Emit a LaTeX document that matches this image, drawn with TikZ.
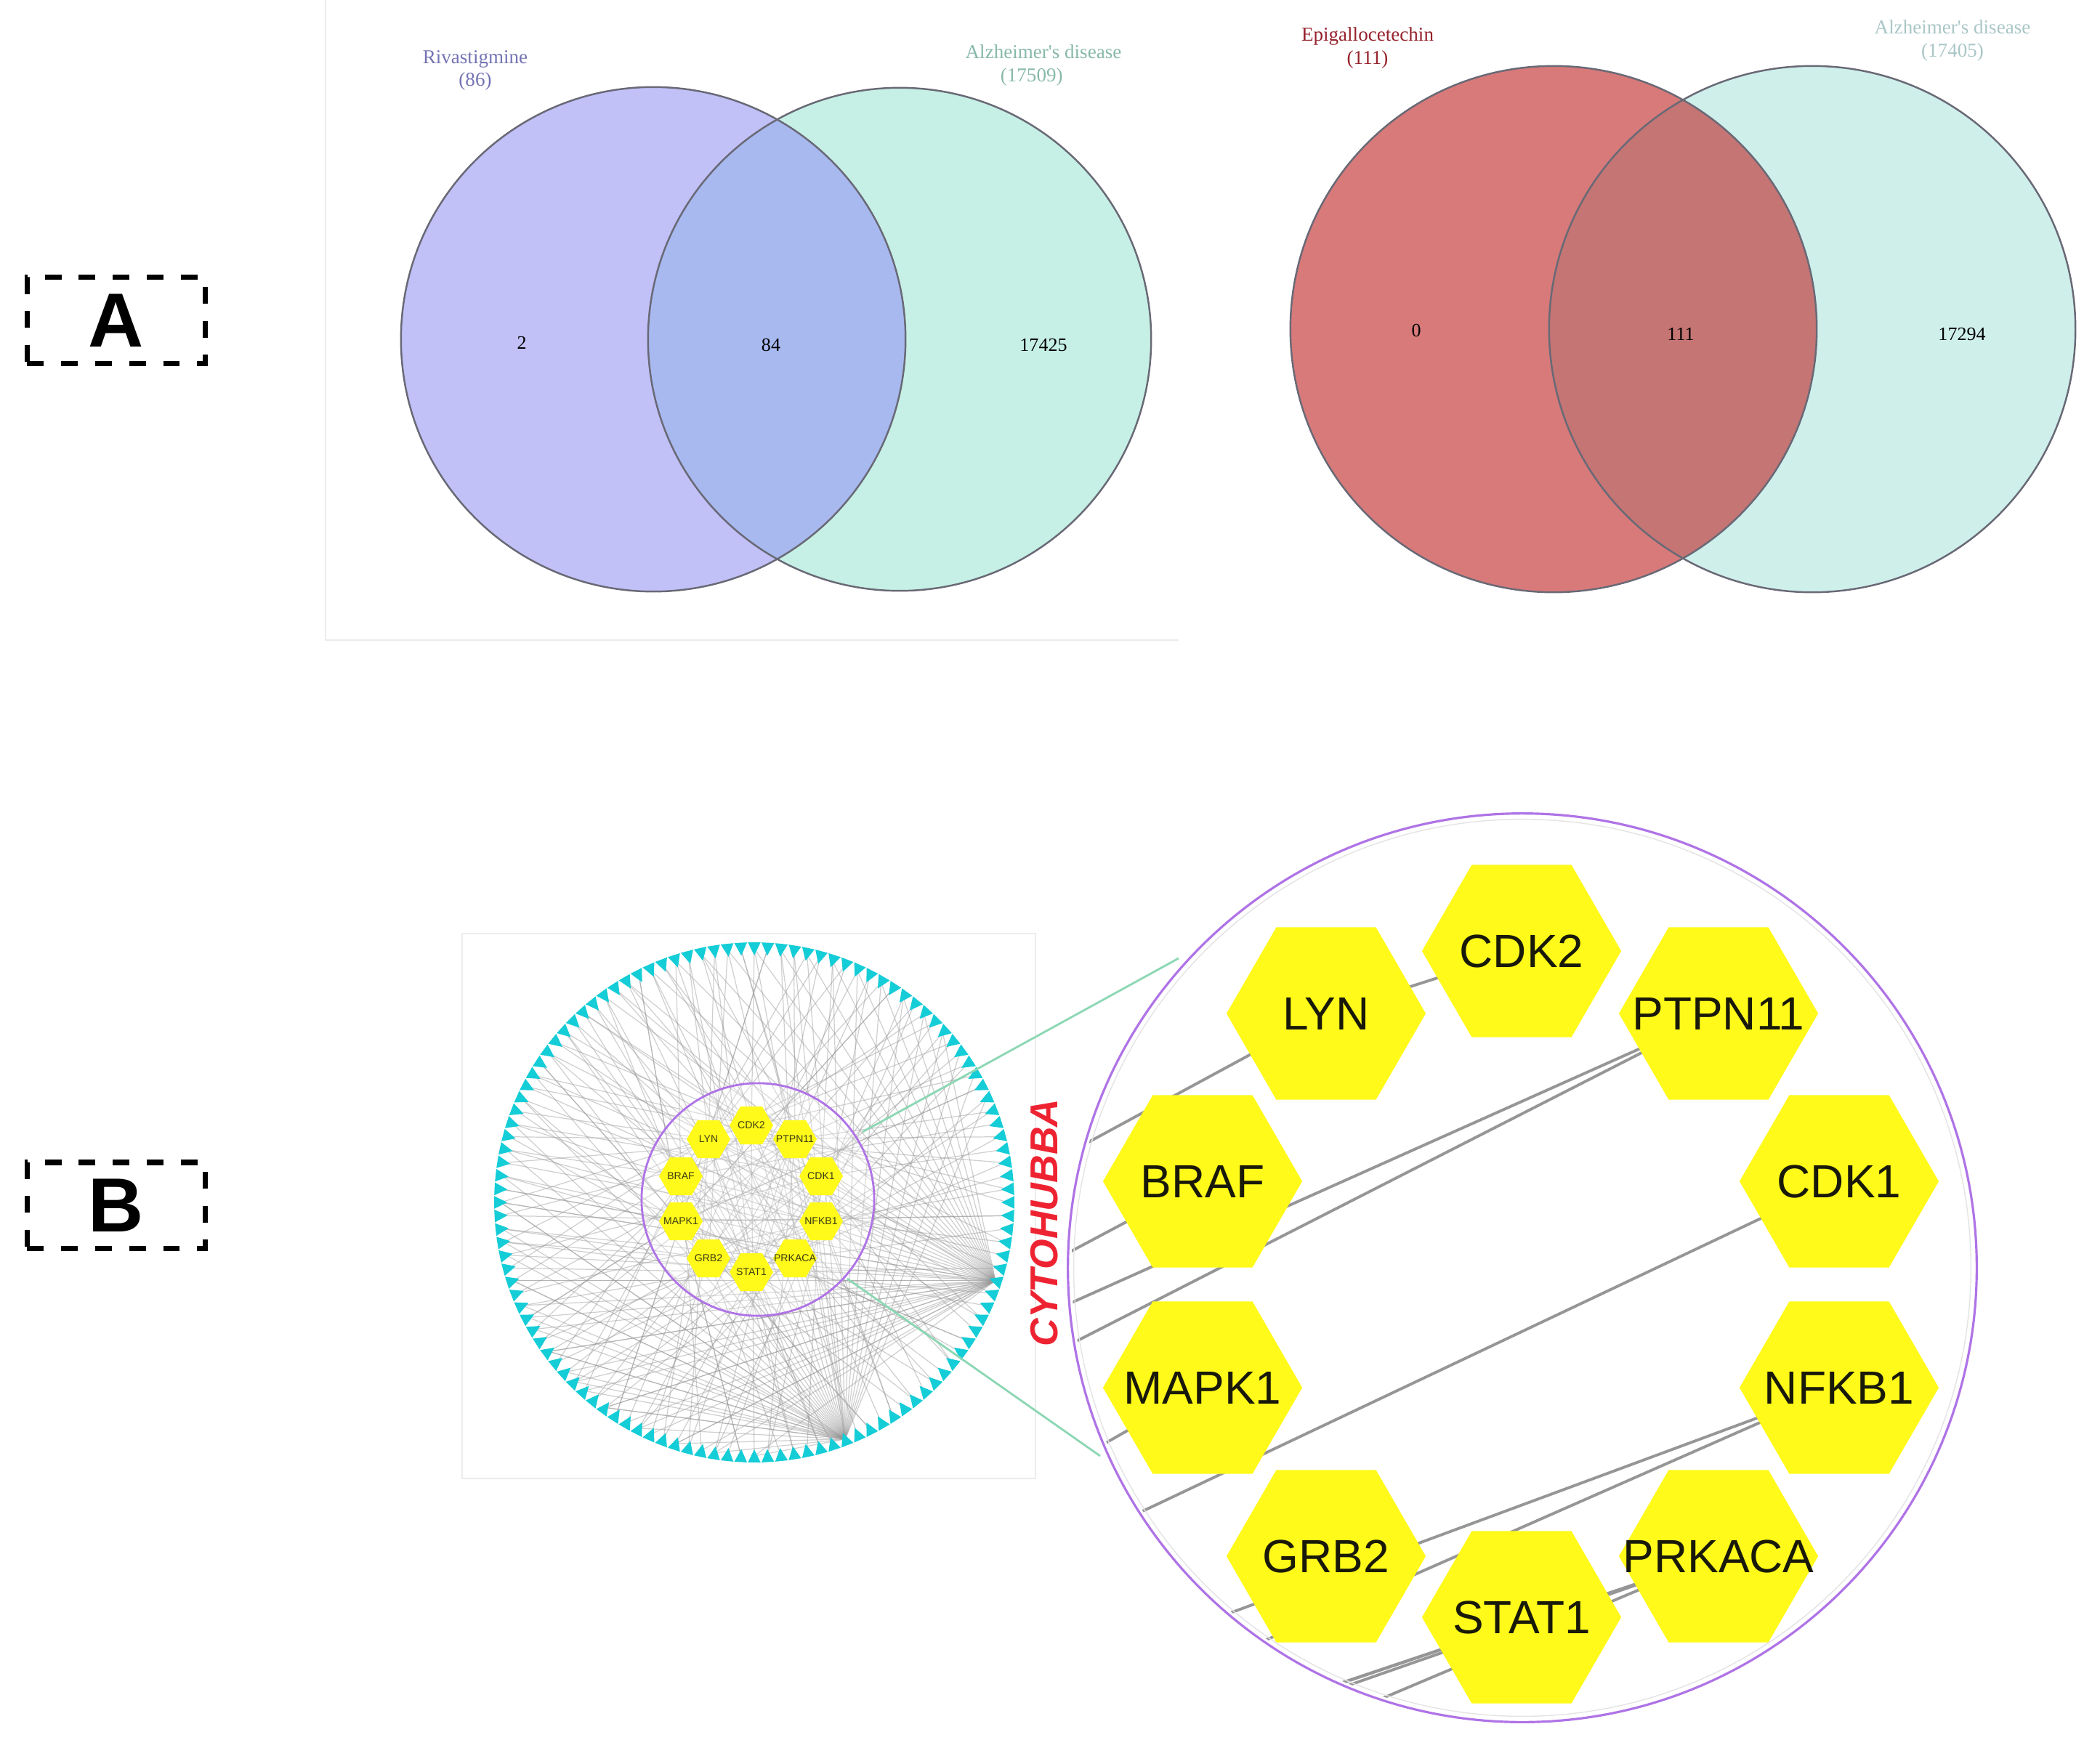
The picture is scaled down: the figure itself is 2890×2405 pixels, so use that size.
\documentclass[tikz,border=0pt]{standalone}
\usepackage{fontspec}
\setmainfont{Liberation Serif}
\setsansfont{Liberation Sans}
\usetikzlibrary{shapes.geometric}
\definecolor{vpurple}{RGB}{193,193,248}
\definecolor{vteal}{RGB}{198,240,229}
\definecolor{vover}{RGB}{168,185,240}
\definecolor{vred}{RGB}{216,122,122}
\definecolor{vteal2}{RGB}{207,239,235}
\definecolor{vredover}{RGB}{196,117,116}
\definecolor{vedge}{RGB}{105,105,118}
\definecolor{lblpurple}{RGB}{115,115,180}
\definecolor{lblteal}{RGB}{135,185,170}
\definecolor{lblred}{RGB}{150,35,45}
\definecolor{lblteal2}{RGB}{170,198,198}
\definecolor{hexyellow}{RGB}{255,250,25}
\definecolor{ringcyan}{RGB}{20,205,215}
\definecolor{hubpurple}{RGB}{175,115,230}
\definecolor{zoomgreen}{RGB}{140,215,180}
\definecolor{cytored}{RGB}{238,35,50}
\definecolor{framegray}{RGB}{236,236,236}
\definecolor{edgegray}{RGB}{150,150,150}
\definecolor{innergray}{RGB}{228,228,228}
\definecolor{hexlbl}{RGB}{25,25,10}
\definecolor{shexlbl}{RGB}{60,60,20}
\tikzset{
  venntext/.style={font=\fontsize{7.7}{9}\selectfont, align=center, inner sep=0pt},
  vennnum/.style={font=\fontsize{7.4}{9}\selectfont, text=black, inner sep=0pt},
  labelbox/.style={draw=black, line width=2pt, dash pattern=on 6.5pt off 6.8pt,
    minimum width=2.45cm, minimum height=1.18cm, inner sep=0pt,
    font=\sffamily\bfseries\fontsize{30}{30}\selectfont},
  bighex/.style={regular polygon, regular polygon sides=6, minimum size=2.74cm,
    inner sep=0pt, fill=hexyellow, draw=none},
  bighexlbl/.style={font=\sffamily\fontsize{18.2}{20}\selectfont, text=hexlbl, inner sep=0pt},
  smallhex/.style={regular polygon, regular polygon sides=6, minimum size=0.6cm,
    inner sep=0pt, fill=hexyellow, draw=none},
  smallhexlbl/.style={font=\sffamily\fontsize{4}{4}\selectfont, text=shexlbl, inner sep=0pt},
  netedge/.style={draw=edgegray, line width=0.35pt, opacity=0.45},
  zoomedge/.style={draw=edgegray, line width=1.1pt},
  zoomline/.style={draw=zoomgreen, line width=0.8pt}
}
\begin{document}
\begin{tikzpicture}[x=0.01cm, y=-0.01cm]
\useasboundingbox (0,0) rectangle (2890,2405);
\fill[white] (0,0) rectangle (2890,2405);

% faint panel frames
\draw[framegray, line width=0.6pt] (448,0) -- (448,881) -- (1622,881);
\draw[framegray, line width=0.6pt] (636,1285) rectangle (1425,2035);

% ---------------- Venn left ----------------
\fill[vpurple] (899,467) circle[radius=3.47cm];
\fill[vteal] (1238,467) circle[radius=3.46cm];
\begin{scope}
  \clip (899,467) circle[radius=3.47cm];
  \fill[vover] (1238,467) circle[radius=3.46cm];
\end{scope}
\draw[vedge, line width=0.7pt] (899,467) circle[radius=3.47cm];
\draw[vedge, line width=0.7pt] (1238,467) circle[radius=3.46cm];
\node[venntext, text=lblpurple] (rivlbl) at (654,97) {Rivastigmine\\(86)};
\node[venntext, text=lblteal] (adlbl1) at (1436,90) {Alzheimer\textquotesingle s disease\\\hspace*{-1.2em}(17509)};
\node[vennnum] (n2) at (718,472) {2};
\node[vennnum] (n84) at (1061,475) {84};
\node[vennnum] (n17425) at (1436,475) {17425};

% ---------------- Venn right ----------------
\fill[vred] (2138,453) circle[radius=3.62cm];
\fill[vteal2] (2494,453) circle[radius=3.62cm];
\begin{scope}
  \clip (2494,453) circle[radius=3.62cm];
  \fill[vredover] (2138,453) circle[radius=3.62cm];
\end{scope}
\draw[vedge, line width=0.7pt] (2138,453) circle[radius=3.62cm];
\draw[vedge, line width=0.7pt] (2494,453) circle[radius=3.62cm];
\node[venntext, text=lblred] (egclbl) at (1882,66) {Epigallocetechin\\(111)};
\node[venntext, text=lblteal2] (adlbl2) at (2687,56) {Alzheimer\textquotesingle s disease\\(17405)};
\node[vennnum] (n0) at (1949,455) {0};
\node[vennnum] (n111) at (2313,460) {111};
\node[vennnum] (n17294) at (2700,460) {17294};

% ---------------- panel labels ----------------
\node[labelbox] (boxA) at (160,441) {A};
\node[labelbox] (boxB) at (160,1659) {B};

% ---------------- small network ----------------
\coordinate (ringc) at (1038,1655);
\foreach \i in {0,...,119}{
  \coordinate (r\i) at ([shift={({3*\i}:349)}]ringc);
}
\foreach \n/\x/\y/\t in {1/1034/1549/CDK2, 2/1094/1568/PTPN11, 3/1130/1619/CDK1,
  4/1130/1681/NFKB1, 5/1094/1732/PRKACA, 6/1034/1751/STAT1, 7/975/1732/GRB2,
  8/937/1681/MAPK1, 9/937/1619/BRAF, 10/975/1568/LYN}{
  \coordinate (s\n) at (\x,\y);
}
% edges ring -> hubs
\foreach \i in {0,...,119}{
  \pgfmathtruncatemacro\k{mod(7*\i,10)+1}
  \draw[netedge] (r\i) -- (s\k);
}
\foreach \i in {1,3,...,119}{
  \pgfmathtruncatemacro\k{mod(3*\i+4,10)+1}
  \draw[netedge] (r\i) -- (s\k);
}
% dense fans from two ring nodes
\foreach \j in {34,36,...,106}{
  \draw[netedge] (r6) -- (r\j);
}
\foreach \j in {42,44,...,112}{
  \draw[netedge] (r23) -- (r\j);
}
\foreach \j in {30,33,...,60}{
  \draw[netedge] (r23) -- (r\j);
  \draw[netedge] (r6) -- (r\j);
}
% cyan ring nodes
\foreach \i in {0,...,119}{
  \fill[ringcyan] ([shift={({3*\i}:340)}]ringc) -- ([shift={({3*\i+1.4}:358)}]ringc)
     -- ([shift={({3*\i-1.4}:358)}]ringc) -- cycle;
}
% inner purple circle and small hexagons
\fill[white, opacity=0.25] (1043,1651) circle[radius=1.6cm];
\draw[hubpurple, line width=0.8pt] (1043,1651) circle[radius=1.6cm];
\foreach \n/\t in {1/CDK2, 2/PTPN11, 3/CDK1, 4/NFKB1, 5/PRKACA, 6/STAT1, 7/GRB2,
  8/MAPK1, 9/BRAF, 10/LYN}{
  \node[smallhex] (sh\n) at (s\n) {};
  \node[smallhexlbl] at (sh\n) {\t};
}

% zoom connector lines
\coordinate (zu1) at (1187,1558);
\coordinate (zu2) at (1622,1319);
\coordinate (zl1) at (1166,1760);
\coordinate (zl2) at (1514,2004);
\draw[zoomline] (zu1) -- (zu2);
\draw[zoomline] (zl1) -- (zl2);

% CYTOHUBBA
\node[rotate=90, text=cytored, inner sep=0pt,
  font=\sffamily\bfseries\itshape\fontsize{15.2}{16}\selectfont] (cyto) at (1437,1683) {CYTOHUBBA};

% ---------------- zoomed hub circle ----------------
\coordinate (bigc) at (2095,1745);
\foreach \n/\x/\y in {1/2094/1309, 2/2365/1395, 3/2531/1626, 4/2531/1910,
  5/2365/2142, 6/2094/2226, 7/1825/2142, 8/1655/1910, 9/1655/1626, 10/1825/1395}{
  \coordinate (bc\n) at (\x,\y);
}
\coordinate (e1) at (1450,1598);
\coordinate (e3) at (1450,1735);
\coordinate (e4) at (1450,1804);
\coordinate (e5) at (1450,1862);
\coordinate (e6) at (1450,2138);
\coordinate (e7) at (1450,2310);
\coordinate (e8) at (1450,2386);
\coordinate (e9a) at (1700,2366);
\coordinate (e9b) at (1700,2374);
\coordinate (e9c) at (1710,2362);
\coordinate (e10) at (1750,2402);
\coordinate (e11) at (1450,2027);
\begin{scope}
  \clip (bigc) circle[radius=6.2cm];
  \draw[zoomedge] (e1) -- (bc10);
  \draw[zoomedge] (bc10) -- (bc1);
  \draw[zoomedge] (e3) -- (bc9);
  \draw[zoomedge] (e4) -- (bc2);
  \draw[zoomedge] (e5) -- (bc2);
  \draw[zoomedge] (e6) -- (bc3);
  \draw[zoomedge] (e7) -- (bc4);
  \draw[zoomedge] (e8) -- (bc4);
  \draw[zoomedge] (e9a) -- (bc5);
  \draw[zoomedge] (e9b) -- (bc5);
  \draw[zoomedge] (e9c) -- (bc5);
  \draw[zoomedge] (e10) -- (bc5);
  \draw[zoomedge] (e11) -- (bc8);
\end{scope}
\foreach \n/\t in {1/CDK2, 2/PTPN11, 3/CDK1, 4/NFKB1, 5/PRKACA, 6/STAT1, 7/GRB2,
  8/MAPK1, 9/BRAF, 10/LYN}{
  \node[bighex] (bh\n) at (bc\n) {};
  \node[bighexlbl] at (bh\n) {\t};
}
\draw[innergray, line width=0.4pt] (bigc) circle[radius=6.17cm];
\draw[hubpurple, line width=0.9pt] (bigc) circle[radius=6.25cm];
\end{tikzpicture}
\end{document}
